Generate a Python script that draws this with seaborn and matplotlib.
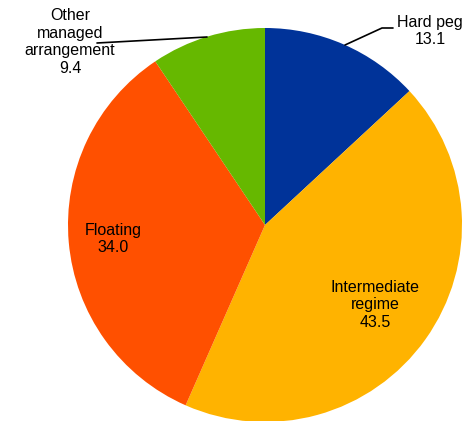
import seaborn as sns
import matplotlib
matplotlib.use('Agg')
import matplotlib.pyplot as plt

# Data
labels = ["Hard peg", "Intermediate\nregime", "Floating", "Other\nmanaged\narrangement"]
values = [13.1, 43.5, 34.0, 9.4]
colors = ["#003399", "#FFB300", "#FF5000", "#66B800"]

sns.set_style("white")
plt.rcParams['font.family'] = ['Liberation Sans', 'DejaVu Sans']

fig = plt.figure(figsize=(4.65, 4.21), dpi=100)
ax = fig.add_axes([0, 0, 1, 1])

# pie in pixel-like coords (y flipped, so go counterclock to look clockwise)
wedges, _ = ax.pie(values, colors=colors, startangle=-90, counterclock=True,
                   center=(265, 225), radius=197, frame=True,
                   wedgeprops=dict(linewidth=0))
ax.set_xlim(0, 465)
ax.set_ylim(421, 0)
ax.set_aspect('equal')
ax.axis('off')

fs = 11.5
txt = dict(ha='center', va='center', fontsize=fs, linespacing=1.22, color='black')

ax.text(375, 305, f"{labels[1]}\n{values[1]:.1f}", **txt)
ax.text(113, 239, f"{labels[2]}\n{values[2]:.1f}", **txt)
ax.text(430, 31, f"{labels[0]}\n{values[0]:.1f}", **txt)
ax.text(70, 42, f"{labels[3]}\n{values[3]:.1f}", **txt)

# leader lines
ax.plot([345, 382, 393], [45, 28, 28], color='black', lw=1.2)
ax.plot([207, 97], [37, 43], color='black', lw=1.2)

fig.savefig("out.png", dpi=100)
